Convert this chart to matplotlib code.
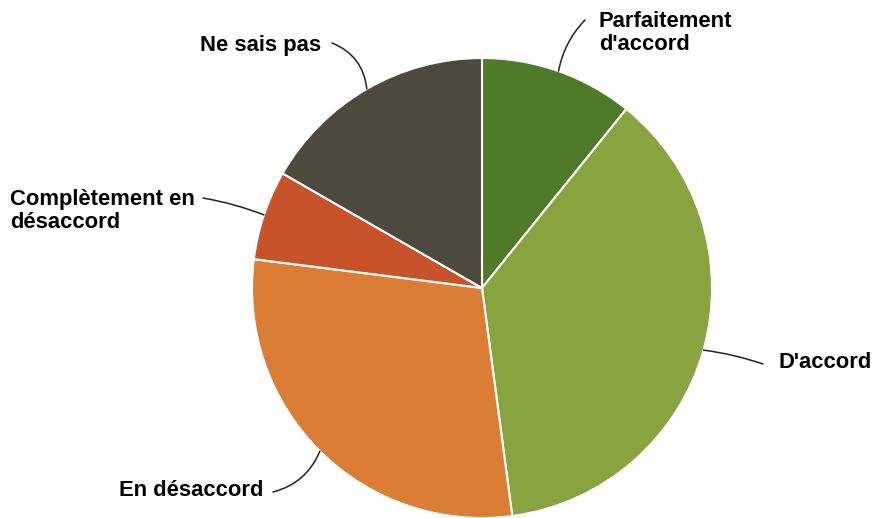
import matplotlib
matplotlib.use("Agg")
import matplotlib.pyplot as plt
import numpy as np

labels = ["Parfaitement\nd'accord", "D'accord", "En désaccord",
          "Complètement en\ndésaccord", "Ne sais pas"]
values = [10.8, 37.1, 29.1, 6.3, 16.7]
colors = ["#4f7b28", "#88a43f", "#dc7d36", "#c8532a", "#4d4a3d"]

# label anchor (x, y in pixel coords from top-left), alignment, curve
label_pos = [(599, 33, "left", 0.15), (778, 363, "left", 0.05),
             (263, 491, "right", 0.25), (10, 211, "left", -0.05),
             (321, 45, "right", -0.3)]
line_end = [(585, 20), (763, 364), (273, 492), (203, 198), (332, 43)]

W, H = 877, 518
fig = plt.figure(figsize=(W / 100, H / 100), dpi=100)
ax = fig.add_axes([0, 0, 1, 1])

cx, cy, r = 482, H - 288, 230
wedges, _ = ax.pie(values, colors=colors, startangle=90, counterclock=False,
                   center=(cx, cy), radius=r, frame=True,
                   wedgeprops=dict(edgecolor="white", linewidth=1.5))
ax.set_xlim(0, W)
ax.set_ylim(0, H)
ax.set_aspect("equal")
ax.axis("off")

for w, lab, (tx, ty, ha, rad), (lx, ly) in zip(wedges, labels, label_pos, line_end):
    mid = np.deg2rad((w.theta1 + w.theta2) / 2)
    px, py = cx + r * np.cos(mid), cy + r * np.sin(mid)
    ax.annotate("", xy=(px, py), xytext=(lx, H - ly),
                arrowprops=dict(arrowstyle="-", color="#222222", lw=1.1,
                                shrinkA=0, shrinkB=0,
                                connectionstyle=f"arc3,rad={rad}"))
    ax.text(tx, H - ty, lab, ha=ha, va="center", fontsize=15.8,
            fontweight="bold", family="Liberation Sans", linespacing=1.18)

fig.savefig("out.png", dpi=100)
